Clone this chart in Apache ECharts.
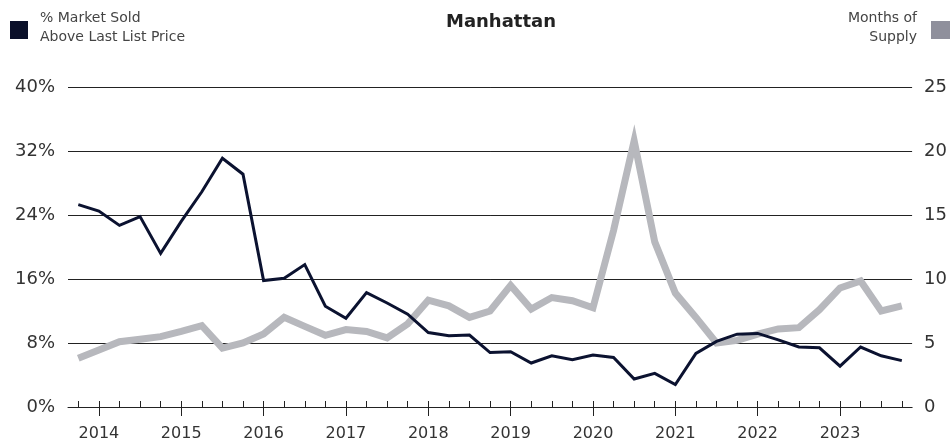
<!DOCTYPE html>
<html>
<head>
	<meta charset="utf-8">
	<title>Manhattan</title>
</head>
<body style="margin:0">
	<div id="box" style="width: 950px;height: 442px"></div>
</body>
<script type="text/javascript" src="https://cdn.jsdelivr.net/npm/echarts@6/dist/echarts.min.js"></script>
<script type="text/javascript">
	// quarters, Q4 2013 .. Q4 2023
	var quarters = [
		'2013 Q4',
		'2014 Q1', '2014 Q2', '2014 Q3', '2014 Q4',
		'2015 Q1', '2015 Q2', '2015 Q3', '2015 Q4',
		'2016 Q1', '2016 Q2', '2016 Q3', '2016 Q4',
		'2017 Q1', '2017 Q2', '2017 Q3', '2017 Q4',
		'2018 Q1', '2018 Q2', '2018 Q3', '2018 Q4',
		'2019 Q1', '2019 Q2', '2019 Q3', '2019 Q4',
		'2020 Q1', '2020 Q2', '2020 Q3', '2020 Q4',
		'2021 Q1', '2021 Q2', '2021 Q3', '2021 Q4',
		'2022 Q1', '2022 Q2', '2022 Q3', '2022 Q4',
		'2023 Q1', '2023 Q2', '2023 Q3', '2023 Q4'
	];
	// % market sold above last list price (left axis)
	var aboveList = [
		25.3, 24.5, 22.7, 23.8, 19.2, 23.2, 26.9, 31.1, 29.1, 15.8,
		16.1, 17.8, 12.6, 11.1, 14.3, 13.0, 11.6, 9.3, 8.9, 9.0,
		6.8, 6.9, 5.5, 6.4, 5.9, 6.5, 6.2, 3.5, 4.2, 2.8,
		6.7, 8.2, 9.1, 9.2, 8.4, 7.5, 7.4, 5.1, 7.5, 6.4,
		5.8
	];
	// months of supply (right axis)
	var monthsSupply = [
		3.8, 4.45, 5.1, 5.3, 5.5, 5.9, 6.35, 4.6, 5.0, 5.7,
		7.0, 6.3, 5.6, 6.05, 5.9, 5.4, 6.5, 8.35, 7.9, 7.0,
		7.5, 9.5, 7.65, 8.55, 8.3, 7.75, 13.8, 20.8, 12.9, 8.9,
		7.0, 5.0, 5.2, 5.7, 6.1, 6.2, 7.6, 9.3, 9.85, 7.5,
		7.9
	];
	var leftTicks = {min: 0, max: 40, step: 8};
	var rightTicks = {min: 0, max: 25, step: 5};

	var fontFamily = 'DejaVu Sans';
	var ink = '#222';
	var dom = document.getElementById('box');
	var myChart = echarts.init(dom);

	function isYearStart(i) {
		return i % 4 === 1;
	}

	myChart.setOption({
		animation: false,
		textStyle: {fontFamily: fontFamily},
		title: {
			text: 'Manhattan',
			left: 496,
			top: 8,
			textAlign: 'center',
			textStyle: {fontSize: 18, fontWeight: 'bold', color: '#222', fontFamily: fontFamily}
		},
		graphic: [
			{type: 'rect', left: 10, top: 21, shape: {width: 18, height: 18}, style: {fill: '#0a0f29'}},
			{type: 'text', x: 40, y: 9, style: {
				text: '% Market Sold\nAbove Last List Price', fontSize: 14, lineHeight: 19,
				fill: '#444', fontFamily: fontFamily
			}},
			{type: 'rect', left: 931, top: 21, shape: {width: 19, height: 18}, style: {fill: '#8f909c'}},
			{type: 'text', x: 917, y: 9, style: {
				text: 'Months of\nSupply', fontSize: 14, lineHeight: 19, align: 'right',
				fill: '#444', fontFamily: fontFamily
			}}
		],
		grid: {left: 68, right: 37, top: 87, bottom: 35},
		xAxis: [
			{   // every quarter: short tick pointing up
				type: 'category',
				data: quarters,
				position: 'bottom',
				boundaryGap: true,
				axisLine: {show: true, onZero: false, lineStyle: {color: ink, width: 1}},
				axisTick: {show: true, inside: true, length: 6, interval: 0, alignWithLabel: true, lineStyle: {color: ink, width: 1}},
				axisLabel: {show: false},
				splitLine: {show: false},
				z: 5
			},
			{   // years: tick crossing down + label
				type: 'category',
				data: quarters,
				position: 'bottom',
				offset: 0,
				boundaryGap: true,
				axisLine: {show: false, onZero: false},
				axisTick: {
					show: true, length: 9, alignWithLabel: true, lineStyle: {color: ink, width: 1},
					interval: function (i) { return isYearStart(i); }
				},
				axisLabel: {
					interval: function (i) { return isYearStart(i); },
					formatter: function (v) { return v.slice(0, 4); },
					fontSize: 16, color: '#333', margin: 19, fontFamily: fontFamily
				},
				z: 5
			}
		],
		yAxis: [
			{
				type: 'value',
				min: leftTicks.min,
				max: leftTicks.max,
				interval: leftTicks.step,
				axisLine: {show: false},
				axisTick: {show: false},
				axisLabel: {formatter: '{value}%', fontSize: 18, color: '#333', margin: 13, fontFamily: fontFamily},
				splitLine: {lineStyle: {color: ink, width: 1}}
			},
			{
				type: 'value',
				min: rightTicks.min,
				max: rightTicks.max,
				interval: rightTicks.step,
				position: 'right',
				axisLine: {show: false},
				axisTick: {show: false},
				axisLabel: {fontSize: 18, color: '#333', margin: 12, fontFamily: fontFamily},
				splitLine: {show: false}
			}
		],
		series: [
			{
				name: 'Months of Supply',
				type: 'line',
				yAxisIndex: 1,
				data: monthsSupply,
				showSymbol: false,
				symbol: 'none',
				lineStyle: {color: '#b7b8bd', width: 7, join: 'miter'},
				z: 2
			},
			{
				name: '% Market Sold Above Last List Price',
				type: 'line',
				yAxisIndex: 0,
				data: aboveList,
				showSymbol: false,
				symbol: 'none',
				lineStyle: {color: '#0b1230', width: 3, join: 'miter'},
				z: 3
			}
		]
	});
</script>
</html>
